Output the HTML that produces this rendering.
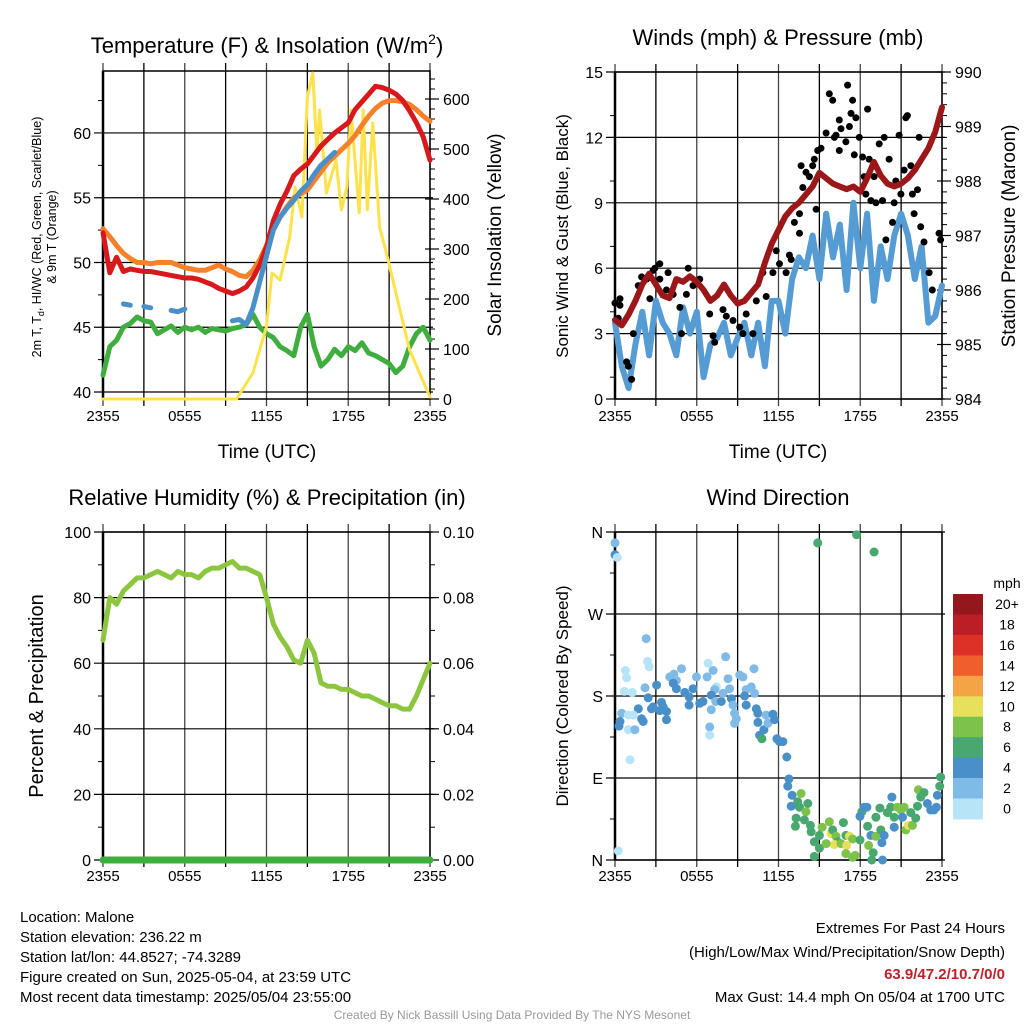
<!DOCTYPE html>
<html><head><meta charset="utf-8"><style>
html,body{margin:0;padding:0;background:#fff}
svg{display:block;font-family:"Liberation Sans",sans-serif}
</style></head><body>
<svg id="s" width="1024" height="1024" viewBox="0 0 1024 1024" xmlns="http://www.w3.org/2000/svg">
<g id="txt" fill="#000">
<text x="267" y="53" font-size="22" text-anchor="middle">Temperature (F) &amp; Insolation (W/m<tspan font-size="14" dy="-9">2</tspan><tspan dy="9">)</tspan></text>
<text x="778" y="45" font-size="22" text-anchor="middle">Winds (mph) &amp; Pressure (mb)</text>
<text x="267" y="505" font-size="22" text-anchor="middle">Relative Humidity (%) &amp; Precipitation (in)</text>
<text x="778" y="505" font-size="22" text-anchor="middle">Wind Direction</text>
<text transform="translate(41,237) rotate(-90)" font-size="12.5" text-anchor="middle">2m T, T<tspan font-size="9" dy="3">d</tspan><tspan dy="-3">, HI/WC (Red, Green, Scarlet/Blue)</tspan></text>
<text transform="translate(56,237) rotate(-90)" font-size="12.5" text-anchor="middle">&amp; 9m T (Orange)</text>
<text transform="translate(501,235) rotate(-90)" font-size="19" text-anchor="middle">Solar Insolation (Yellow)</text>
<text transform="translate(568,236) rotate(-90)" font-size="17" text-anchor="middle">Sonic Wind &amp; Gust (Blue, Black)</text>
<text transform="translate(1015,236) rotate(-90)" font-size="19" text-anchor="middle">Station Pressure (Maroon)</text>
<text transform="translate(43,696) rotate(-90)" font-size="20" text-anchor="middle">Percent &amp; Precipitation</text>
<text transform="translate(568,696) rotate(-90)" font-size="17" text-anchor="middle">Direction (Colored By Speed)</text>
<text x="267" y="458" font-size="19" text-anchor="middle">Time (UTC)</text>
<text x="778" y="458" font-size="19" text-anchor="middle">Time (UTC)</text>
<text x="1007" y="588" font-size="14" text-anchor="middle">mph</text>
<g font-size="15">
<text x="20" y="922">Location: Malone</text>
<text x="20" y="942">Station elevation: 236.22 m</text>
<text x="20" y="962">Station lat/lon: 44.8527; -74.3289</text>
<text x="20" y="982">Figure created on Sun, 2025-05-04, at 23:59 UTC</text>
<text x="20" y="1002">Most recent data timestamp: 2025/05/04 23:55:00</text>
</g>
<g font-size="15" text-anchor="end">
<text x="1005" y="933">Extremes For Past 24 Hours</text>
<text x="1005" y="957">(High/Low/Max Wind/Precipitation/Snow Depth)</text>
<text x="1005" y="979" fill="#c0202a" font-weight="bold">63.9/47.2/10.7/0/0</text>
<text x="1005" y="1002">Max Gust: 14.4 mph On 05/04 at 1700 UTC</text>
</g>
<text x="512" y="1019" font-size="12" fill="#999" text-anchor="middle">Created By Nick Bassill Using Data Provided By The NYS Mesonet</text>
</g>
</svg>
<script>
// ---- data (half-hourly from 2355 UTC, hours 0..24) ----
const timeLabels = ["2355","0555","1155","1755","2355"];
const tempRed = [52.3,49.2,50.4,49.3,49.5,49.4,49.3,49.3,49.2,49.1,49,48.9,48.8,48.8,48.7,48.5,48.3,48.0,47.8,47.6,47.8,48.1,48.8,49.8,51.2,53.2,54.5,55.5,56.7,57.2,57.6,58.3,59,59.5,60,60.4,60.8,61.8,62.4,63,63.6,63.5,63.3,63,62.5,61.7,60.8,59.7,57.9];
const tempOrange = [52.6,52,51.3,50.7,50.3,50,50,49.9,50,50,50,49.8,49.6,49.5,49.4,49.4,49.6,49.8,49.5,49.3,49,48.9,49.4,50.2,51.3,52.5,53.5,54.3,55,55.3,55.6,56.3,57,57.7,58.2,58.7,59.2,59.8,60.6,61.3,61.9,62.3,62.5,62.5,62.4,62.2,61.8,61.3,60.9];
const tempBlue = [null,null,null,46.8,46.7,null,46.6,46.5,null,null,46.3,46.2,46.4,null,null,null,null,null,null,45.5,45.6,45.2,46.5,48.5,50.5,52.5,53.5,54.2,54.8,55.5,56,56.8,57.5,58,58.5,null,null,null,null,null,null,null,null,null,null,null,null,null,null];
const tempGreen = [41.3,43.5,44,45,45.3,45.8,45.5,45.4,44.5,44.8,45.1,44.6,45,44.8,45,44.6,44.9,44.8,44.7,44.9,45,45.2,46,45,44.5,44.2,43.5,43.2,42.8,45,46,43.5,42,42.5,43.3,42.8,43.5,43.2,43.8,43,42.8,42.5,42.2,41.5,42,43.5,44.5,45,44];
const solarHours = [0,9.8,11,12,12.4,13,13.7,14.1,14.6,15,15.4,15.7,15.9,16.4,17.1,17.5,17.9,18.2,18.8,19.1,19.4,19.8,20.3,20.8,21.8,22.5,24];
const solarVals = [0,0,52,145,252,238,324,424,364,604,652,492,578,412,478,378,424,578,372,578,378,552,344,292,178,98,4];
const pressure = [985.45,985.35,985.55,985.8,986.1,986.3,986.1,985.9,985.85,986.2,986.15,986.25,986.15,986.0,985.8,985.9,986.1,985.9,985.75,985.8,985.95,986.1,986.5,986.85,987.1,987.35,987.5,987.6,987.75,987.9,988.15,988.05,987.95,987.9,987.85,987.9,987.8,988.05,988.35,988.1,987.95,987.9,987.95,988.05,988.2,988.4,988.6,988.9,989.35];
const windSpeed = [3.5,1.5,0.5,2.5,4,2,4.5,3.5,3,2,4.2,3,4,1,2.5,2.8,3.5,2,2.8,3.5,2,3.5,1.5,4.5,4.5,3,5.5,6.5,6,7.5,5.5,8.5,6.5,8,5,9,6,8.5,4.5,7,5.5,7.5,8.5,7.5,5.5,7,3.5,3.8,5.2];
const gustHours = [0,.37,.37,.24,.85,.98,1.22,1.34,1.71,1.95,2.32,2.56,2.8,2.93,3.29,3.29,3.78,3.9,4.27,4.76,4.88,5.24,5.37,5.73,6.22,6.95,7.2,7.32,7.93,8.17,8.66,9.15,9.39,9.63,10.12,10.37,10.85,11.1,11.59,11.83,12.07,12.56,12.8,12.93,13.17,13.54,13.54,13.66,13.78,14.02,14.27,14.51,14.63,14.76,14.88,15.12,15.49,15.73,15.98,16.1,16.22,16.46,16.46,16.59,16.95,17.07,17.2,17.32,17.44,17.56,17.68,17.93,18.17,18.29,18.41,18.54,18.66,18.78,19.02,19.15,19.39,19.63,19.76,19.88,20.12,20.37,20.49,20.61,20.85,20.98,21.22,21.34,21.46,21.71,21.83,21.95,22.2,22.32,22.44,22.68,23.05,23.29,23.78,23.9];
const gustVals = [4.4,4.6,4.3,3.7,1.7,1.5,0.9,3.0,5.2,5.6,5.5,4.6,5.9,6.0,6.2,5.5,5.0,5.8,4.8,4.2,3.0,4.8,6.0,5.2,5.5,3.9,2.9,2.6,4.1,3.8,3.6,3.3,3.0,3.9,3.0,4.5,5.8,4.7,5.8,6.8,6.2,5.8,6.6,6.4,8.1,8.5,7.6,10.7,9.7,10.4,10.2,10.7,11.0,8.7,11.4,11.5,12.2,14.0,13.7,12.0,12.1,12.8,11.4,12.4,11.8,14.4,12.5,13.1,13.7,11.2,12.9,12.0,11.1,10.2,9.4,13.3,11.0,9.1,10.2,9.0,11.7,9.1,12.0,7.3,11.0,8.1,9.0,10.0,12.1,9.4,10.5,12.9,13.0,10.7,9.4,8.5,9.6,12.0,7.9,7.2,5.8,5.0,7.6,7.3];
const humidity = [67,80,78,82,84,86,86,87,88,87,86,88,87,87,86,88,89,89,90,91,89,89,88,87,80,72,68,65,61,60,67,63,54,53,53,52,52,51,50,50,49,48,47,47,46,46,50,55,60];
const precip = [0,0,0,0,0,0,0,0,0,0,0,0,0,0,0,0,0,0,0,0,0,0,0,0,0,0,0,0,0,0,0,0,0,0,0,0,0,0,0,0,0,0,0,0,0,0,0,0,0];
const dirHours = [0,0,.17,.24,2.29,2.39,2.51,.76,.85,.68,1.27,2.2,3.05,2.44,2.8,2.68,3.41,3.54,3.78,3.78,3.29,1.71,1.95,2.07,.49,.98,1.34,.37,.29,.98,1.46,1.1,4.32,4.88,4.02,4.51,4.27,4.51,5.12,5.73,5.98,5.44,5.44,6.22,6.46,6.76,6.83,7.2,7.44,7.32,7.07,7.39,7.07,7.8,7.93,8.12,8.29,8.41,8.54,8.66,8.78,8.78,8.9,6.95,6.95,9.15,9.39,9.63,10,10.2,10.24,9.51,9.63,10.37,10.49,10.49,10.61,10.78,10.93,11.1,11.22,11.59,11.71,11.88,12.07,12.32,12.61,12.76,12.68,13,12.93,13.66,13.41,13.54,14.15,14.02,13.29,13.24,13.9,14.34,14.39,14.63,15,15.2,15.73,15.85,15.98,16.22,16.34,16.1,16.59,16.76,16.95,17.2,17,17.44,17.98,16.95,17.44,17.63,14.63,15,15.49,18.12,18.29,18.49,17.98,18.54,18.95,18.85,18.61,18.78,19.15,19.59,19.44,19.15,19.51,19.76,20,20.24,20.32,20.49,20.49,20.73,20.98,21.22,21.1,21.34,21.54,21.71,21.83,22.07,22.2,22.27,22.44,22.68,22.93,23.17,23.41,23.59,23.66,23.83,23.9,19.63,14.88,17.73,19.02];
const dirDeg = [348,335,332,10,243,218,212,208,200,185,184,189,192,178,168,166,173,168,163,154,164,166,155,152,161,159,159,152,147,143,143,110,204,210,201,197,194,188,184,188,201,179,170,172,174,201,216,208,190,187,181,174,165,174,183,223,199,188,177,170,161,150,155,146,137,203,201,187,190,210,183,180,170,166,161,151,137,133,143,159,150,160,154,133,130,130,113,89,81,71,59,73,64,58,62,53,46,37,44,38,31,20,27,36,42,29,33,26,20,17,18,41,27,26,16,23,22,7,3,5,4,13,18,53,58,58,48,37,8,0,16,27,26,19,57,47,33,27,52,58,69,47,36,58,55,58,47,33,38,52,38,46,59,77,69,74,62,55,55,58,71,81,91,0,348,357,338];
const dirSpeed = [3,5,1,1,3,1,1,1,1,1,1,3,5,5,5,5,5,5,5,5,5,5,5,5,3,1,1,5,5,1,3,1,3,3,3,3,5,5,5,5,3,5,5,5,5,3,1,3,1,3,5,3,3,5,3,3,3,3,5,3,3,3,3,3,1,3,3,3,3,3,3,5,5,5,5,5,5,7,5,3,3,5,5,5,5,5,5,5,5,5,5,9,7,7,7,9,7,7,7,7,7,7,7,9,9,11,7,9,7,11,9,7,7,11,11,9,7,9,9,9,7,7,9,7,5,5,5,7,7,7,9,5,9,5,7,7,7,5,7,7,5,7,5,9,9,9,5,9,11,7,9,7,7,9,7,7,5,5,5,5,5,7,7,5,7,7,7];
const cbLabels = ["20+","18","16","14","12","10","8","6","4","2","0"];
const cbColors = ["#93171b","#bb1f25","#dd3128","#ef5f2b","#f5a445","#e6e05a","#7dc24b","#48a86f","#4a90c8","#7fbbe6","#b8e4f8"];

// ---- helpers ----
const NS="http://www.w3.org/2000/svg";
const svg=document.getElementById('s');
function mk(tag,attrs,parent){const e=document.createElementNS(NS,tag);for(const k in attrs)e.setAttribute(k,attrs[k]);(parent||svg).appendChild(e);return e;}
function P(x0,x1,y0,y1){return {x0,x1,y0,y1};}
const panels={temp:P(103,430,71,399),wind:P(615,942,72,399),rh:P(103,430,532,860),dir:P(615,942,532,860)};
function xs(p,h){return p.x0+(p.x1-p.x0)*h/24;}
function lin(d0,d1,r0,r1){return v=>r0+(v-d0)*(r1-r0)/(d1-d0);}
const yT=lin(40,65,392,68.2), yS=lin(0,600,399,99), yW=lin(0,15,399,72), yP=lin(984,990,399,72), yR=lin(0,100,860,532), yPr=lin(0,0.1,860,532), yD=lin(0,360,860,532);
function speedColor(s){const i=Math.min(10,Math.max(0,Math.floor(s/2)));return cbColors[10-i];}

function frame(p,name,yticks,yfun,ylab,minorStep,xlabelY){
  const g=mk('g',{});
  
  
  for(let i=0;i<=8;i++){const x=p.x0+(p.x1-p.x0)*i/8;
    const l=mk('line',{x1:x,x2:x,y1:p.y0-8,y2:p.y1+7,stroke:(i%2?'#000':'#444'),'stroke-width':1.3},g);
    }
  yticks.forEach((v,i)=>{const y=yfun(v);
    const l=mk('line',{x1:p.x0-9,x2:p.x1+3,y1:y,y2:y,stroke:'#000','stroke-width':1.2},g);
    
    const t=mk('text',{x:p.x0-12,y:y+6,'font-size':16,'text-anchor':'end'},g);t.textContent=ylab[i];
    
    if(minorStep&&i<yticks.length-1){const ym=yfun(v+minorStep);if(ym>p.y0)mk('line',{x1:p.x0-5,x2:p.x0,y1:ym,y2:ym,stroke:'#000'},g);}
  });
  if(minorStep){const ym=yfun(yticks[yticks.length-1]+minorStep);if(ym>p.y0)mk('line',{x1:p.x0-5,x2:p.x0,y1:ym,y2:ym,stroke:'#000'},g);}
  const r=mk('rect',{x:p.x0,y:p.y0,width:p.x1-p.x0,height:p.y1-p.y0,fill:'none',stroke:'#000','stroke-width':1.5},g);
  
  mk('line',{x1:p.x0,x2:p.x0,y1:p.y0,y2:p.y1,stroke:'#000','stroke-width':2.5},g);
  timeLabels.forEach((s,i)=>{const t=mk('text',{x:p.x0+(p.x1-p.x0)*i/4,y:xlabelY,'font-size':15,'text-anchor':'middle'},g);t.textContent=s;
    });
}
function rightAxis(p,ticks,fun,labels,minor,name){
  const g=mk('g',{});
  
  
  ticks.forEach((v,i)=>{const y=fun(v);mk('line',{x1:p.x1-5,x2:p.x1+9,y1:y,y2:y,stroke:'#000','stroke-width':1.2},g);
    const t=mk('text',{x:p.x1+13,y:y+6,'font-size':16},g);t.textContent=labels[i];
    });
  for(let v=ticks[0];v<=ticks[ticks.length-1]+minor*5;v+=minor){const y=fun(v);if(y>=p.y0&&y<=p.y1)mk('line',{x1:p.x1,x2:p.x1+5,y1:y,y2:y,stroke:'#000'},g);}
}
function pathFrom(p,arr,yf){let d='',pen=false;arr.forEach((v,i)=>{if(v===null){pen=false;return;}d+=(pen?'L':'M')+xs(p,i*0.5).toFixed(1)+','+yf(v).toFixed(1);pen=true;});return d;}
function series(d,color,w,name){const e=mk('path',{d:d,fill:'none',stroke:color,'stroke-width':w,'stroke-linejoin':'round','stroke-linecap':'round'});
  return e;}

// ---- Panel 1: temperature ----
let p=panels.temp;
frame(p,'temperature',[40,45,50,55,60],yT,['40','45','50','55','60'],2.5,421);
rightAxis(p,[0,100,200,300,400,500,600],yS,['0','100','200','300','400','500','600'],20,'solar-right-axis');
series(pathFrom(p,tempGreen,yT),'#3fae3f',5,'dewpoint-line');
{let d='';solarHours.forEach((h,i)=>{d+=(i?'L':'M')+xs(p,h).toFixed(1)+','+yS(solarVals[i]).toFixed(1);});series(d,'#ffe24a',3,'solar-insolation-line');}
series(pathFrom(p,tempOrange,yT),'#f5822a',5,'temp-9m-line');
series(pathFrom(p,tempRed,yT),'#d7191c',5,'temp-2m-line');
series(pathFrom(p,tempBlue,yT),'#4a90c8',5,'heat-index-windchill-line');

// ---- Panel 2: winds ----
p=panels.wind;
frame(p,'winds',[0,3,6,9,12,15],yW,['0','3','6','9','12','15'],1,421);
rightAxis(p,[984,985,986,987,988,989,990],yP,['984','985','986','987','988','989','990'],0.2,'pressure-right-axis');
series(pathFrom(p,windSpeed,yW),'#559bd4',6,'sonic-wind-line');
gustHours.forEach((h,i)=>{const c=mk('circle',{cx:xs(p,h).toFixed(1),cy:yW(gustVals[i]).toFixed(1),r:3.5,fill:'#000'});
  
  });
series(pathFrom(p,pressure,yP),'#9b1719',6,'pressure-line');

// ---- Panel 3: humidity ----
p=panels.rh;
frame(p,'humidity',[0,20,40,60,80,100],yR,['0','20','40','60','80','100'],10,881);
rightAxis(p,[0,0.02,0.04,0.06,0.08,0.1],yPr,['0.00','0.02','0.04','0.06','0.08','0.10'],0.01,'precip-right-axis');
series(pathFrom(p,humidity,yR),'#8cc63f',5,'relative-humidity-line');
series(pathFrom(p,precip,yPr),'#3fae3f',7,'precipitation-line');

// ---- Panel 4: direction ----
p=panels.dir;
frame(p,'direction',[0,90,180,270,360],yD,['N','E','S','W','N'],45,881);
dirHours.forEach((h,i)=>{const c=mk('circle',{cx:xs(p,h).toFixed(1),cy:yD(dirDeg[i]).toFixed(1),r:4.5,fill:speedColor(dirSpeed[i])});
  
  });
const cbY0=594,cbH=20.45;
cbColors.forEach((col,i)=>{const r=mk('rect',{x:953,y:(cbY0+i*cbH).toFixed(1),width:30,height:cbH+0.5,fill:col});
  
  
  const t=mk('text',{x:1007,y:(cbY0+i*cbH+15).toFixed(1),'font-size':14,'text-anchor':'middle'});t.textContent=cbLabels[i];
  
  });
svg.appendChild(document.getElementById('txt'));
</script>
</body></html>
